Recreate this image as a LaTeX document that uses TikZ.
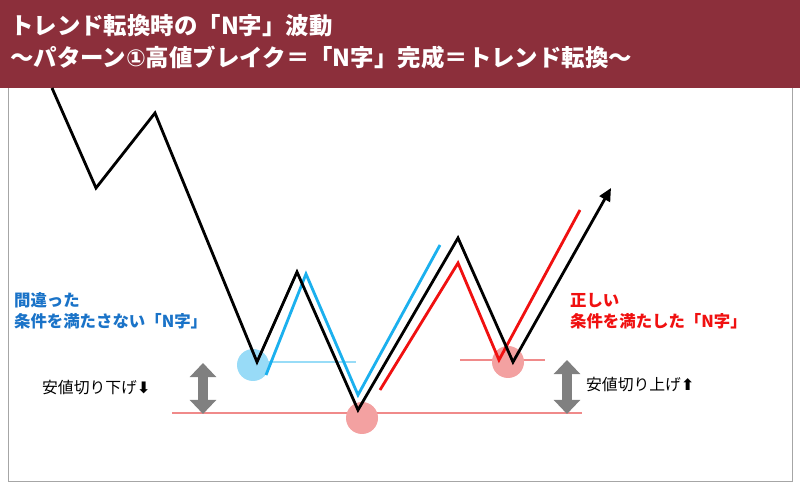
\documentclass[tikz,border=0pt]{standalone}
\usepackage{fontspec}
\setmainfont{Noto Sans CJK JP}
\newfontfamily\djsym{DejaVu Sans}
\usetikzlibrary{arrows.meta}
\definecolor{hdr}{HTML}{8C2F3B}
\definecolor{bl}{HTML}{1BB0EE}
\definecolor{tb}{HTML}{1A73C8}
\definecolor{rd}{HTML}{F01010}
\definecolor{pk}{HTML}{F08A8A}
\definecolor{gr}{HTML}{808080}
\tikzset{x=0.03cm,y=-0.03cm,
 wave/.style={line width=2.4pt,line join=miter},
 hl/.style={line width=1.4pt},
 dot/.style={circle,minimum size=32*0.03cm,inner sep=0pt},
 darr/.style={gr,line width=8pt,{Triangle[width=22pt,length=12pt]}-{Triangle[width=22pt,length=12pt]}},
 lab/.style={font=\bfseries\fontsize{14}{18}\selectfont,align=left,anchor=west}}
\begin{document}
\begin{tikzpicture}
\useasboundingbox (0,0) rectangle (800,487);
\fill[white] (0,0) rectangle (800,487);
\draw[gr!70,line width=0.8pt] (8,0) rectangle (792,481);
\fill[hdr] (0,0) rectangle (800,88);
\node[anchor=west,text=white,font=\bfseries\fontsize{20}{27}\selectfont,align=left] (t) at (6,42) {トレンド転換時の「N字」波動\\〜パターン{\djsym ①}高値ブレイク＝「N字」完成＝トレンド転換〜};
% horizontal lines
\draw[bl!45,hl] (240,362) -- (356,362);
\draw[pk,hl] (172,413) -- (582,413);
\draw[pk,hl] (460,360) -- (545,360);
% circles
\node[dot,fill=bl!45] (c1) at (253,365) {};
\node[dot,fill=pk!80] (c2) at (362,418) {};
\node[dot,fill=pk!80] (c3) at (508,362) {};
% waves
\draw[bl,wave] (266,375) -- (306,274) -- (358,395) -- (440,245);
\draw[rd,wave] (380,390) -- (458,263) -- (499,360) -- (580,210);
\coordinate (e) at (611,188);
\draw[wave,-{Triangle[width=10pt,length=11pt]}] (52,88) -- (96,188) -- (155,113) -- (257,362) -- (297,272) -- (358,410) -- (458,238) -- (513,362) -- (e);
% gray arrows
\coordinate (a1) at (203,363); \coordinate (a2) at (203,414);
\draw[darr] (a1) -- (a2);
\coordinate (b1) at (567,360); \coordinate (b2) at (567,414);
\draw[darr] (b1) -- (b2);
% labels
\node[lab,text=tb] (l1) at (10,311) {間違った\\条件を満たさない「N字」};
\node[lab,text=rd] (l2) at (566,311) {正しい\\条件を満たした「N字」};
\node[lab,font=\fontsize{13.5}{17}\selectfont] (l3) at (38,388) {安値切り下げ{\djsym\bfseries ⬇}};
\node[lab,font=\fontsize{13.5}{17}\selectfont] (l4) at (582,385) {安値切り上げ{\djsym\bfseries ⬆}};
\end{tikzpicture}
\end{document}
